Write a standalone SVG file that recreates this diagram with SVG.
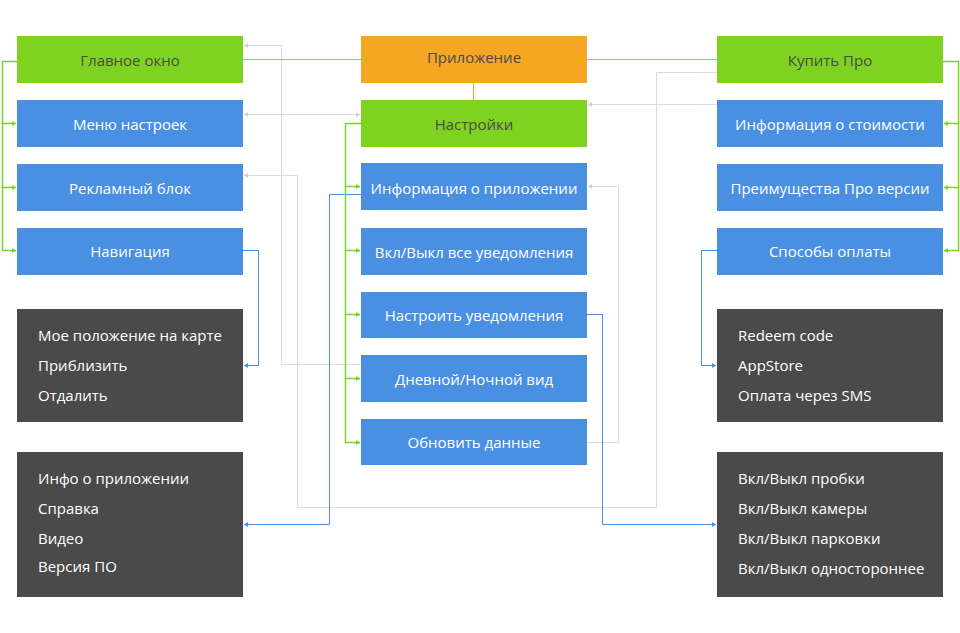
<svg xmlns="http://www.w3.org/2000/svg" width="960" height="633" viewBox="0 0 960 633">
<style>
text{font-family:"Open Sans","Noto Sans","Liberation Sans",sans-serif;font-size:15px}
.lbl{text-anchor:middle}
.w{fill:#ffffff}
.d{fill:#4a4a4a}
.blue{fill:#4a90e2}
.green{fill:#7ed321}
.orange{fill:#f5a623}
.dark{fill:#4a4a4a}
.c{fill:none;stroke-width:1}
.cg{stroke:#dcdcdc}
.cb{stroke:#4a90e2}
.cgr{stroke:#7ed321;stroke-width:1.5}
.co{stroke:#f5a623}
</style>
<defs>
<marker id="ag" markerUnits="userSpaceOnUse" markerWidth="5" markerHeight="6" refX="4" refY="3" orient="auto-start-reverse"><path d="M0,0.5 L4,3 L0,5.5 Z" fill="#d0d0d0"/></marker>
<marker id="ab" markerUnits="userSpaceOnUse" markerWidth="5" markerHeight="6" refX="4" refY="3" orient="auto"><path d="M0,0.5 L4,3 L0,5.5 Z" fill="#4a90e2"/></marker>
<marker id="agr" markerUnits="userSpaceOnUse" markerWidth="5" markerHeight="6" refX="4" refY="3" orient="auto"><path d="M0,0.5 L4,3 L0,5.5 Z" fill="#7ed321"/></marker>
</defs>
<rect width="960" height="633" fill="#ffffff"/>
<g id="connectors">
<path class="c cg" d="M361 364.5 H281.5 V45.5 H244" marker-end="url(#ag)"/>
<path class="c cg" d="M717 72.5 H656.5 V507.5 H297.5 V175.5 H244" marker-end="url(#ag)"/>
<path class="c cg" d="M360 114.5 H244" marker-start="url(#ag)" marker-end="url(#ag)"/>
<path class="c cg" d="M717 104.5 H588" marker-end="url(#ag)"/>
<path class="c cg" d="M587 442.5 H618.5 V186.5 H588" marker-end="url(#ag)"/>
<path class="c cb" d="M243 250.5 H258.5 V365.5 H244" marker-end="url(#ab)"/>
<path class="c cb" d="M361 194.5 H329.5 V524.5 H244" marker-end="url(#ab)"/>
<path class="c cb" d="M587 314.5 H602.5 V524.5 H716" marker-end="url(#ab)"/>
<path class="c cb" d="M717 250.5 H701.5 V365.5 H716" marker-end="url(#ab)"/>
<path class="c cgr" d="M17 61.5 H2.5 V123.5 H16" marker-end="url(#agr)"/>
<path class="c cgr" d="M2.5 123.5 V187.5 H16" marker-end="url(#agr)"/>
<path class="c cgr" d="M2.5 187.5 V250.5 H16" marker-end="url(#agr)"/>
<path class="c cgr" d="M943 61.5 H958.5 V123.5 H944" marker-end="url(#agr)"/>
<path class="c cgr" d="M958.5 123.5 V187.5 H944" marker-end="url(#agr)"/>
<path class="c cgr" d="M958.5 187.5 V250.5 H944" marker-end="url(#agr)"/>
<path class="c cgr" d="M361 123.5 H345.5 V186.5 H360" marker-end="url(#agr)"/>
<path class="c cgr" d="M345.5 186.5 V250.5 H360" marker-end="url(#agr)"/>
<path class="c cgr" d="M345.5 250.5 V314.5 H360" marker-end="url(#agr)"/>
<path class="c cgr" d="M345.5 314.5 V378.5 H360" marker-end="url(#agr)"/>
<path class="c cgr" d="M345.5 378.5 V442.5 H360" marker-end="url(#agr)"/>
<path class="c co" d="M243 59.5 H361"/>
<path class="c co" d="M587 59.5 H717"/>
<path class="c co" d="M473.5 83 V100"/>
</g>
<g id="glavnoe"><rect class="green" x="17" y="36" width="226" height="47"/><text class="lbl d" x="130" y="66">Главное окно</text></g>
<g id="menu"><rect class="blue" x="17" y="100" width="226" height="47"/><text class="lbl w" x="130" y="130">Меню настроек</text></g>
<g id="reklama"><rect class="blue" x="17" y="164" width="226" height="47"/><text class="lbl w" x="130" y="194">Рекламный блок</text></g>
<g id="navigacia"><rect class="blue" x="17" y="228" width="226" height="47"/><text class="lbl w" x="130" y="257">Навигация</text></g>
<g id="nav-list"><rect class="dark" x="17" y="309" width="226" height="113"/>
<text class="w" x="38" y="341">Мое положение на карте</text>
<text class="w" x="38" y="371">Приблизить</text>
<text class="w" x="38" y="401">Отдалить</text></g>
<g id="info-list"><rect class="dark" x="17" y="452" width="226" height="145"/>
<text class="w" x="38" y="484">Инфо о приложении</text>
<text class="w" x="38" y="514">Справка</text>
<text class="w" x="38" y="544">Видео</text>
<text class="w" x="38" y="572">Версия ПО</text></g>
<g id="prilozhenie"><rect class="orange" x="361" y="36" width="226" height="47"/><text class="lbl d" x="474" y="63">Приложение</text></g>
<g id="nastroiki"><rect class="green" x="361" y="100" width="226" height="47"/><text class="lbl d" x="474" y="130">Настройки</text></g>
<g id="info-app"><rect class="blue" x="361" y="163" width="226" height="47"/><text class="lbl w" x="474" y="194">Информация о приложении</text></g>
<g id="all-notif"><rect class="blue" x="361" y="228" width="226" height="47"/><text class="lbl w" x="474" y="258">Вкл/Выкл все уведомления</text></g>
<g id="notif"><rect class="blue" x="361" y="292" width="226" height="46"/><text class="lbl w" x="474" y="321">Настроить уведомления</text></g>
<g id="daynight"><rect class="blue" x="361" y="355" width="226" height="47"/><text class="lbl w" x="474" y="385">Дневной/Ночной вид</text></g>
<g id="refresh"><rect class="blue" x="361" y="419" width="226" height="46"/><text class="lbl w" x="474" y="448">Обновить данные</text></g>
<g id="kupit"><rect class="green" x="717" y="36" width="226" height="47"/><text class="lbl d" x="830" y="66">Купить Про</text></g>
<g id="cost"><rect class="blue" x="717" y="100" width="226" height="47"/><text class="lbl w" x="830" y="130">Информация о стоимости</text></g>
<g id="benefits"><rect class="blue" x="717" y="164" width="226" height="47"/><text class="lbl w" x="830" y="194">Преимущества Про версии</text></g>
<g id="payment"><rect class="blue" x="717" y="228" width="226" height="47"/><text class="lbl w" x="830" y="257">Способы оплаты</text></g>
<g id="pay-list"><rect class="dark" x="717" y="309" width="226" height="113"/>
<text class="w" x="738" y="341">Redeem code</text>
<text class="w" x="738" y="371">AppStore</text>
<text class="w" x="738" y="401">Оплата через SMS</text></g>
<g id="toggle-list"><rect class="dark" x="717" y="452" width="226" height="145"/>
<text class="w" x="738" y="484">Вкл/Выкл пробки</text>
<text class="w" x="738" y="514">Вкл/Выкл камеры</text>
<text class="w" x="738" y="544">Вкл/Выкл парковки</text>
<text class="w" x="738" y="574">Вкл/Выкл одностороннее</text></g>
</svg>
